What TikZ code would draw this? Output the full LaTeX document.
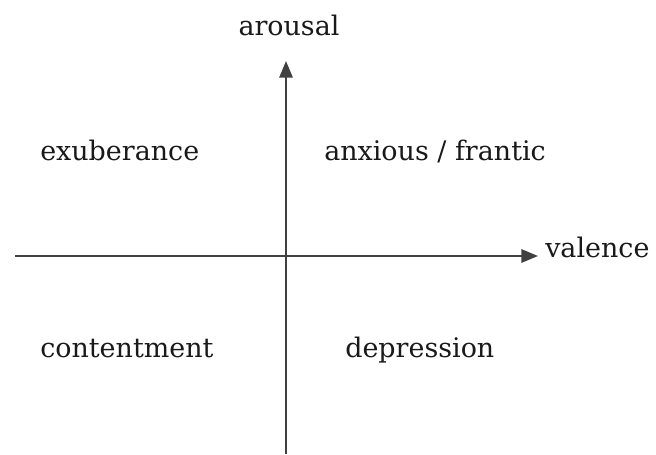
\documentclass[tikz,border=0pt]{standalone}
\usepackage{fontspec}
\setmainfont{DejaVu Serif}
\usetikzlibrary{arrows.meta}
\begin{document}
\begin{tikzpicture}[x=0.75pt, y=-0.75pt,
    axis/.style={line width=1.5pt, black!75, -{Triangle[length=12.5pt, width=10pt]}},
    lbl/.style={font=\fontsize{20.2}{24}\selectfont, text=black!90, inner sep=0pt}]
    \useasboundingbox (0,0) rectangle (656,454);
    % Axes
    \coordinate (xstart) at (15,256);
    \coordinate (xend) at (538,256);
    \coordinate (ystart) at (286,454);
    \coordinate (yend) at (286,61);
    \draw[axis] (xstart) -- (xend);
    \draw[axis] (ystart) -- (yend);
    \node[lbl, anchor=base west] (valence) at (545,257) {valence};
    \node[lbl, anchor=base] (arousal) at (289,35) {arousal};
    % Quadrants
    \node[lbl, anchor=base west] (exuberance) at (40,160) {exuberance};
    \node[lbl, anchor=base west] (anxious) at (324,160) {anxious / frantic};
    \node[lbl, anchor=base west] (contentment) at (40,357) {contentment};
    \node[lbl, anchor=base west] (depression) at (345,357) {depression};
\end{tikzpicture}
\end{document}
